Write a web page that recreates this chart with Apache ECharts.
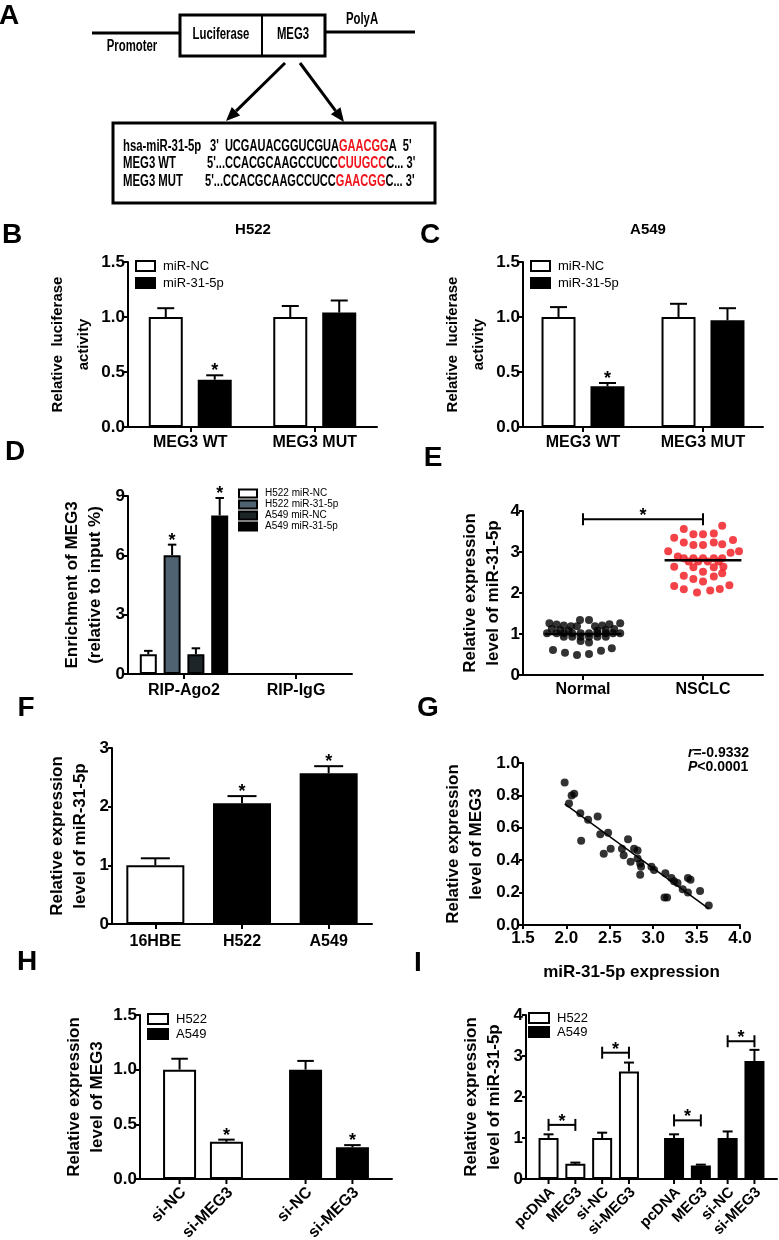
<!DOCTYPE html>
<html>
<head>
<meta charset="utf-8">
<script src="https://cdn.jsdelivr.net/npm/echarts@6/dist/echarts.min.js"></script>
<style>
  html, body { margin: 0; padding: 0; background: #fff; }
  #chart { width: 779px; height: 1240px; }
</style>
</head>
<body>
<div id="chart"></div>
<script>
// ---- panel A: reporter construct ----
const seqLabels = ['hsa-miR-31-5p', 'MEG3 WT', 'MEG3 MUT'];
const seqLeft = ["3'  UCGAUACGGUCGUA", "5'...CCACGCAAGCCUCC", "5'...CCACGCAAGCCUCC"];
const seqSite = ['GAACGG', 'CUUGCC', 'GAACGG'];
const seqRight = ["A  5'", "C... 3'", "C... 3'"];

// ---- panels B / C: luciferase ----
const lucCategories = ['MEG3 WT', 'MEG3 MUT'];
const lucSeriesNames = ['miR-NC', 'miR-31-5p'];
const h522LucMean = [[1.00, 1.00], [0.43, 1.04]];
const h522LucErr = [[1.08, 1.10], [0.47, 1.15]];
const h522LucStar = [[0, 0], [1, 0]];
const a549LucMean = [[1.00, 1.00], [0.37, 0.97]];
const a549LucErr = [[1.09, 1.12], [0.40, 1.08]];
const a549LucStar = [[0, 0], [1, 0]];

// ---- panel D: RIP ----
const ripCategories = ['RIP-Ago2', 'RIP-IgG'];
const ripSeriesNames = ['H522 miR-NC', 'H522 miR-31-5p', 'A549 miR-NC', 'A549 miR-31-5p'];
const ripMean = [[1.0, 0], [6.0, 0], [1.0, 0], [8.02, 0]];
const ripErr = [[1.17, null], [6.54, null], [1.30, null], [8.9, null]];
const ripStar = [[0, 0], [1, 0], [0, 0], [1, 0]];

// ---- panel E: tissue scatter ----
const exprCategories = ['Normal', 'NSCLC'];
const normalJitter = [-0.28, -0.22, -0.16, -0.10, -0.05, -0.025, 0.05, 0.10, 0.16, 0.22, 0.31,
  -0.26, -0.19, -0.12, 0.12, 0.19, 0.26,
  -0.30, -0.22, -0.16, -0.09, -0.02, 0.05, 0.12, 0.19, 0.25, 0.31,
  -0.16, -0.09, -0.02, 0.05, 0.12, 0.19,
  -0.02, 0.05,
  -0.25, -0.15, -0.05, 0.05, 0.15, 0.24];
const normalValues = [1.26, 1.23, 1.21, 1.19, 1.19, 1.34, 1.34, 1.19, 1.21, 1.24, 1.26,
  1.12, 1.10, 1.08, 1.08, 1.10, 1.12,
  1.02, 1.02, 1.02, 1.02, 1.02, 1.02, 1.02, 1.02, 1.02, 1.02,
  0.93, 0.93, 0.93, 0.93, 0.93, 0.93,
  0.83, 0.79,
  0.61, 0.54, 0.49, 0.51, 0.59, 0.65];
const nsclcJitter = [-0.16, 0.16, -0.24, -0.08, 0.00, 0.09, 0.25, -0.16, -0.08, 0.00, 0.09, 0.16,
  -0.29, 0.30, 0.23, -0.21, -0.16, -0.08, 0.00, 0.09, 0.16, -0.12, -0.04, 0.04, 0.13,
  -0.08, 0.09, -0.24, 0.17, 0.00, -0.16, -0.08, 0.09, 0.16, 0.00, -0.24, -0.16, -0.05, 0.06, 0.14, 0.22];
const nsclcValues = [3.56, 3.64, 3.35, 3.43, 3.43, 3.45, 3.29, 3.23, 3.17, 3.17, 3.23, 3.19,
  3.02, 3.02, 2.98, 2.89, 2.85, 2.85, 2.85, 2.85, 2.85, 2.77, 2.77, 2.77, 2.77,
  2.63, 2.63, 2.64, 2.64, 2.52, 2.42, 2.34, 2.40, 2.48, 2.28, 2.17, 2.09, 2.01, 2.06, 2.10, 2.19];
const exprMeans = [1.0, 2.80];
const exprBracket = [[0, 1, 3.80]];

// ---- panel F: cell lines ----
const cellCategories = ['16HBE', 'H522', 'A549'];
const cellMean = [1.00, 2.06, 2.57];
const cellErr = [1.12, 2.18, 2.69];
const cellStar = [0, 1, 1];

// ---- panel G: correlation ----
const corrX = [1.98, 2.06, 2.09, 2.03, 2.16, 2.25, 2.36, 2.17, 2.39, 2.48, 2.43, 2.51, 2.64, 2.66,
  2.71, 2.74, 2.78, 2.82, 2.82, 2.85, 2.86, 2.85, 2.98, 3.01, 3.14, 3.21, 3.24, 3.28, 3.34,
  3.40, 3.43, 3.40, 3.54, 3.13, 3.16, 3.64];
const corrY = [0.88, 0.80, 0.81, 0.75, 0.69, 0.65, 0.67, 0.52, 0.56, 0.57, 0.44, 0.47, 0.47, 0.43,
  0.53, 0.39, 0.47, 0.46, 0.41, 0.38, 0.36, 0.31, 0.36, 0.34, 0.32, 0.29, 0.27, 0.26, 0.22,
  0.29, 0.28, 0.20, 0.21, 0.17, 0.17, 0.12];
const corrR = '-0.9332';
const corrP = '<0.0001';

// ---- panel H: knockdown ----
const cellGroups = ['H522', 'A549'];
const knockTreat = ['si-NC', 'si-MEG3'];
const knockMean = [[1.00, 1.00], [0.34, 0.29]];
const knockErr = [[1.10, 1.08], [0.36, 0.31]];
const knockStar = [[0, 0], [1, 1]];

// ---- panel I: rescue ----
const rescueTreat = ['pcDNA', 'MEG3', 'si-NC', 'si-MEG3'];
const rescueMean = [[1.00, 1.00], [0.37, 0.33], [1.00, 1.00], [2.62, 2.88]];
const rescueErr = [[1.09, 1.09], [0.40, 0.35], [1.13, 1.16], [2.84, 3.15]];
const rescueBrackets = [[0, 0, 1, 1.32], [0, 2, 3, 3.08], [1, 0, 1, 1.43], [1, 2, 3, 3.36]];

const FONT = "'Liberation Sans', Arial, sans-serif";
const RED = '#f0141c';
const white = { color: '#fff', borderColor: '#000', borderWidth: 2 };
const black = { color: '#000', borderColor: '#000', borderWidth: 2 };
const ripColors = ['#fff', '#4f6271', '#1d2529', '#000'];

const chart = echarts.init(document.getElementById('chart'), null, { renderer: 'canvas' });

function slotOffsets(n, w, gap) {
  const total = n * w + (n - 1) * gap * w;
  const out = [];
  for (let i = 0; i < n; i++) out.push(-total / 2 + w / 2 + i * w * (1 + gap));
  return out;
}

const axisLine = { show: true, lineStyle: { color: '#000', width: 2 } };
const tickLabel = { color: '#000', fontFamily: FONT, fontWeight: 'bold', fontSize: 17 };
const nameStyle = { color: '#000', fontFamily: FONT, fontWeight: 'bold', fontSize: 17, lineHeight: 23 };

function yAxisOf(gi, min, max, step, digits, name, gap, style) {
  return {
    type: 'value', gridIndex: gi, min: min, max: max, interval: step,
    axisLine: axisLine,
    axisTick: { show: true, length: 4, lineStyle: { color: '#000', width: 2 } },
    splitLine: { show: false },
    axisLabel: Object.assign({ margin: 3, formatter: v => v.toFixed(digits) }, tickLabel),
    name: name, nameLocation: 'middle', nameRotate: 90, nameGap: gap,
    nameTextStyle: style || nameStyle
  };
}
function catAxisOf(gi, data, margin, showLabel) {
  return {
    type: 'category', gridIndex: gi, data: data,
    axisLine: axisLine,
    axisTick: { show: showLabel, alignWithLabel: true, length: 5, lineStyle: { color: '#000', width: 2 } },
    axisLabel: Object.assign({ show: showLabel, margin: margin, interval: 0 }, tickLabel, { fontSize: 16 })
  };
}

function starText(x, y) {
  return { type: 'text', x: x, y: y, style: { text: '*', align: 'center', verticalAlign: 'bottom',
    fill: '#000', fontFamily: FONT, fontWeight: 'bold', fontSize: 18 } };
}

// error bars (+ stars) for a grouped bar chart
function errorSeries(xi, yi, n, w, gap, means, errs, stars) {
  const offs = slotOffsets(n, w, gap);
  const data = [];
  means.forEach((row, s) => row.forEach((v, c) => {
    if (errs[s][c] != null) data.push([c, s, v, errs[s][c], stars ? stars[s][c] : 0]);
  }));
  return {
    type: 'custom', xAxisIndex: xi, yAxisIndex: yi, z: 5, silent: true, data: data,
    encode: { x: 0, y: 3 },
    renderItem(params, api) {
      const s = api.value(1);
      const p0 = api.coord([api.value(0), api.value(2)]);
      const p1 = api.coord([api.value(0), api.value(3)]);
      const x = p0[0] + offs[s];
      const cw = w * 0.5;
      const children = [
        { type: 'line', shape: { x1: x, y1: p0[1], x2: x, y2: p1[1] }, style: { stroke: '#000', lineWidth: 2 } },
        { type: 'line', shape: { x1: x - cw / 2, y1: p1[1], x2: x + cw / 2, y2: p1[1] }, style: { stroke: '#000', lineWidth: 2 } }
      ];
      if (api.value(4)) children.push(starText(x, p1[1] + 5));
      return { type: 'group', children: children };
    }
  };
}

// tick + rotated label under each bar
function barLabelSeries(xi, yi, n, w, gap, names, groups, size) {
  const offs = slotOffsets(n, w, gap);
  const data = [];
  groups.forEach((g, c) => names.forEach((nm, s) => data.push([c, s])));
  return {
    type: 'custom', xAxisIndex: xi, yAxisIndex: yi, silent: true, data: data,
    encode: { x: 0 },
    renderItem(params, api) {
      const p = api.coord([api.value(0), 0]);
      const x = p[0] + offs[api.value(1)];
      return { type: 'group', children: [
        { type: 'line', shape: { x1: x, y1: p[1], x2: x, y2: p[1] + 5 }, style: { stroke: '#000', lineWidth: 2 } },
        { type: 'text', x: x + 4, y: p[1] + 11, rotation: Math.PI / 4, style: {
          text: names[api.value(1)], align: 'right', verticalAlign: 'middle', fill: '#000',
          fontFamily: FONT, fontWeight: 'bold', fontSize: size } }
      ] };
    }
  };
}

function bracketChildren(xa, xb, y) {
  return [
    { type: 'line', shape: { x1: xa, y1: y, x2: xb, y2: y }, style: { stroke: '#000', lineWidth: 2 } },
    { type: 'line', shape: { x1: xa, y1: y - 6, x2: xa, y2: y + 6 }, style: { stroke: '#000', lineWidth: 2 } },
    { type: 'line', shape: { x1: xb, y1: y - 6, x2: xb, y2: y + 6 }, style: { stroke: '#000', lineWidth: 2 } },
    starText((xa + xb) / 2, y + 6)
  ];
}

const series = [];

// B and C bars
[[0, h522LucMean, h522LucErr, h522LucStar], [1, a549LucMean, a549LucErr, a549LucStar]].forEach(([g, m, e, st]) => {
  lucSeriesNames.forEach((nm, s) => series.push({
    type: 'bar', name: nm, xAxisIndex: g, yAxisIndex: g, data: m[s],
    barWidth: 34, barGap: '44%', itemStyle: s === 0 ? white : black
  }));
  series.push(errorSeries(g, g, 2, 34, 0.44, m, e, st));
});

// D bars
ripSeriesNames.forEach((nm, s) => series.push({
  type: 'bar', name: nm, xAxisIndex: 2, yAxisIndex: 2, data: ripMean[s],
  barWidth: 17, barGap: '40%',
  itemStyle: { color: ripColors[s], borderColor: '#000', borderWidth: 2 }
}));
series.push(errorSeries(2, 2, 4, 17, 0.40, ripMean, ripErr, ripStar));

// E scatter
series.push({
  type: 'scatter', xAxisIndex: 4, yAxisIndex: 3, symbolSize: 8, itemStyle: { color: '#000' },
  data: normalValues.map((v, i) => [0.5 + normalJitter[i], v])
});
series.push({
  type: 'scatter', xAxisIndex: 4, yAxisIndex: 3, symbolSize: 8, itemStyle: { color: RED },
  data: nsclcValues.map((v, i) => [1.5 + nsclcJitter[i], v])
});
series.push({
  type: 'custom', xAxisIndex: 3, yAxisIndex: 3, z: 6, silent: true,
  data: exprMeans.map((v, c) => [c, v]), encode: { x: 0, y: 1 },
  renderItem(params, api) {
    const p = api.coord([api.value(0), api.value(1)]);
    const half = api.size([1, 0])[0] * 0.32;
    return { type: 'line', shape: { x1: p[0] - half, y1: p[1], x2: p[0] + half, y2: p[1] },
      style: { stroke: '#000', lineWidth: 2.5 } };
  }
});
series.push({
  type: 'custom', xAxisIndex: 3, yAxisIndex: 3, silent: true, data: exprBracket, encode: { x: 0, y: 2 },
  renderItem(params, api) {
    const pa = api.coord([api.value(0), api.value(2)]);
    const pb = api.coord([api.value(1), api.value(2)]);
    return { type: 'group', children: bracketChildren(pa[0], pb[0], pa[1]) };
  }
});

// F bars
series.push({
  type: 'bar', xAxisIndex: 5, yAxisIndex: 4, barWidth: 58,
  data: cellMean.map((v, i) => ({ value: v, itemStyle: i === 0 ? white : black }))
});
series.push(errorSeries(5, 4, 1, 58, 0, [cellMean], [cellErr], [cellStar]));

// G scatter + least-squares fit
const n = corrX.length;
const mx = corrX.reduce((a, b) => a + b, 0) / n;
const my = corrY.reduce((a, b) => a + b, 0) / n;
let sxy = 0, sxx = 0;
for (let i = 0; i < n; i++) { sxy += (corrX[i] - mx) * (corrY[i] - my); sxx += (corrX[i] - mx) ** 2; }
const slope = sxy / sxx, icpt = my - slope * mx;
const xLo = Math.min(...corrX), xHi = Math.max(...corrX);
series.push({
  type: 'scatter', xAxisIndex: 6, yAxisIndex: 5, symbolSize: 8, itemStyle: { color: '#000' },
  data: corrX.map((x, i) => [x, corrY[i]])
});
series.push({
  type: 'line', xAxisIndex: 6, yAxisIndex: 5, symbol: 'none', silent: true,
  lineStyle: { color: '#000', width: 1.5 },
  data: [[xLo, icpt + slope * xLo], [xHi, icpt + slope * xHi]]
});

// H bars
knockTreat.forEach((t, s) => series.push({
  type: 'bar', name: t, xAxisIndex: 7, yAxisIndex: 6, barWidth: 33, barGap: '42%',
  data: knockMean[s].map((v, c) => ({ value: v, itemStyle: c === 0 ? white : black }))
}));
series.push(errorSeries(7, 6, 2, 33, 0.42, knockMean, knockErr, knockStar));
series.push(barLabelSeries(7, 6, 2, 33, 0.42, knockTreat, cellGroups, 16));

// I bars
rescueTreat.forEach((t, s) => series.push({
  type: 'bar', name: t, xAxisIndex: 8, yAxisIndex: 7, barWidth: 20, barGap: '34%',
  data: rescueMean[s].map((v, c) => ({ value: v, itemStyle: c === 0 ? white : black }))
}));
series.push(errorSeries(8, 7, 4, 20, 0.34, rescueMean, rescueErr, null));
series.push(barLabelSeries(8, 7, 4, 20, 0.34, rescueTreat, cellGroups, 15));
const rescueOffs = slotOffsets(4, 20, 0.34);
series.push({
  type: 'custom', xAxisIndex: 8, yAxisIndex: 7, silent: true, data: rescueBrackets, encode: { x: 0, y: 3 },
  renderItem(params, api) {
    const p = api.coord([api.value(0), api.value(3)]);
    return { type: 'group', children: bracketChildren(p[0] + rescueOffs[api.value(1)], p[0] + rescueOffs[api.value(2)], p[1]) };
  }
});

// legend-only series for H / I
series.push({ type: 'bar', name: 'H522', xAxisIndex: 9, yAxisIndex: 8, data: [], itemStyle: white });
series.push({ type: 'bar', name: 'A549', xAxisIndex: 9, yAxisIndex: 8, data: [], itemStyle: black });

function legendOf(names, left, top, size, w, h, gap) {
  return {
    data: names, left: left, top: top, orient: 'vertical', icon: 'rect', selectedMode: false,
    itemWidth: w, itemHeight: h, itemGap: gap, padding: 0,
    itemStyle: { borderColor: '#000', borderWidth: 2 },
    textStyle: { color: '#000', fontFamily: FONT, fontSize: size, lineHeight: size + 1, padding: [0, 0, 0, 3] }
  };
}

// panel A drawing (condensed bold text via scaleX)
const SQUEEZE = 0.71;
function arrow(x1, y1, x2, y2) {
  const len = Math.hypot(x2 - x1, y2 - y1);
  const ux = (x2 - x1) / len, uy = (y2 - y1) / len;
  const bx = x2 - ux * 14, by = y2 - uy * 14;
  return [
    { type: 'line', shape: { x1: x1, y1: y1, x2: bx, y2: by }, style: { stroke: '#000', lineWidth: 3 } },
    { type: 'polygon', shape: { points: [[x2, y2], [bx - uy * 6, by + ux * 6], [bx + uy * 6, by - ux * 6]] }, style: { fill: '#000' } }
  ];
}
function txt(x, y, text, size, opts, sx) {
  return { type: 'text', x: x, y: y, scaleX: sx || 1, style: Object.assign({
    text: text, fill: '#000', fontFamily: FONT, fontWeight: 'bold', fontSize: size,
    align: 'center', verticalAlign: 'middle' }, opts || {}) };
}
const graphic = [
  { type: 'line', shape: { x1: 92, y1: 33, x2: 180, y2: 33 }, style: { stroke: '#000', lineWidth: 3 } },
  { type: 'line', shape: { x1: 325, y1: 32, x2: 415, y2: 32 }, style: { stroke: '#000', lineWidth: 3 } },
  { type: 'rect', shape: { x: 180, y: 15, width: 145, height: 41 }, style: { fill: '#fff', stroke: '#000', lineWidth: 3 } },
  { type: 'line', shape: { x1: 262, y1: 15, x2: 262, y2: 56 }, style: { stroke: '#000', lineWidth: 2 } },
  txt(132, 47, 'Promoter', 16, null, SQUEEZE),
  txt(221, 35, 'Luciferase', 16, null, SQUEEZE),
  txt(293, 35, 'MEG3', 16, null, SQUEEZE),
  txt(362, 20, 'PolyA', 16, null, SQUEEZE),
  ...arrow(285, 63, 226, 121),
  ...arrow(300, 63, 344, 122),
  { type: 'rect', shape: { x: 113, y: 123, width: 322, height: 80 }, style: { fill: '#fff', stroke: '#000', lineWidth: 3 } }
];
const seqX = [210, 207, 205];
const seqY = [147, 164, 182];
seqLabels.forEach((lab, i) => {
  graphic.push(txt(123, seqY[i], lab, 16, { align: 'left' }, SQUEEZE));
  graphic.push(txt(seqX[i], seqY[i], seqLeft[i] + '{r|' + seqSite[i] + '}' + seqRight[i], 16, {
    align: 'left', rich: { r: { fill: RED, fontFamily: FONT, fontWeight: 'bold', fontSize: 16 } } }, 0.69));
});
[['A', 9, 16], ['B', 12, 235], ['C', 430, 235], ['D', 15, 452], ['E', 433, 458],
 ['F', 26, 708], ['G', 428, 708], ['H', 27, 962], ['I', 418, 963]].forEach(([l, x, y]) => graphic.push(txt(x, y, l, 28)));
graphic.push(txt(253, 230, 'H522', 15));
graphic.push(txt(648, 230, 'A549', 15));
const italic = { i: { fontStyle: 'italic', fontWeight: 'bold', fontSize: 14, fontFamily: FONT, fill: '#000' } };
graphic.push(txt(688, 753, '{i|r}=' + corrR, 14, { align: 'left', rich: italic }));
graphic.push(txt(688, 767, '{i|P}' + corrP, 14, { align: 'left', rich: italic }));

const lucName = Object.assign({}, nameStyle, { fontSize: 15, lineHeight: 26 });

const option = {
  animation: false,
  backgroundColor: '#fff',
  textStyle: { fontFamily: FONT },
  grid: [
    { left: 128, top: 262, width: 249, height: 165 },
    { left: 523, top: 262, width: 240, height: 165 },
    { left: 128, top: 496, width: 224, height: 178 },
    { left: 523, top: 511, width: 240, height: 164 },
    { left: 112, top: 748, width: 260, height: 176 },
    { left: 523, top: 763, width: 217, height: 162 },
    { left: 140, top: 1015, width: 252, height: 164 },
    { left: 526, top: 1015, width: 251, height: 164 },
    { left: -200, top: -200, width: 10, height: 10 }
  ],
  xAxis: [
    catAxisOf(0, lucCategories, 8, true),
    catAxisOf(1, lucCategories, 8, true),
    catAxisOf(2, ripCategories, 9, true),
    catAxisOf(3, exprCategories, 7, true),
    { type: 'value', gridIndex: 3, min: 0, max: 2, show: false },
    catAxisOf(4, cellCategories, 10, true),
    {
      type: 'value', gridIndex: 5, min: 1.5, max: 4.0, interval: 0.5,
      axisLine: axisLine, splitLine: { show: false },
      axisTick: { show: true, length: 4, lineStyle: { color: '#000', width: 2 } },
      axisLabel: Object.assign({ margin: 5, formatter: v => v.toFixed(1) }, tickLabel),
      name: 'miR-31-5p expression', nameLocation: 'middle', nameGap: 36, nameTextStyle: nameStyle
    },
    catAxisOf(6, cellGroups, 8, false),
    catAxisOf(7, cellGroups, 8, false),
    { type: 'category', gridIndex: 8, data: ['x'], show: false }
  ],
  yAxis: [
    yAxisOf(0, 0, 1.5, 0.5, 1, 'Relative  luciferase\nactivity', 31, lucName),
    yAxisOf(1, 0, 1.5, 0.5, 1, 'Relative  luciferase\nactivity', 31, lucName),
    yAxisOf(2, 0, 9, 3, 0, 'Enrichment of MEG3\n(relative to input %)', 21),
    yAxisOf(3, 0, 4, 1, 0, 'Relative expression\nlevel of miR-31-5p', 18),
    yAxisOf(4, 0, 3, 1, 0, 'Relative expression\nlevel of miR-31-5p', 20),
    yAxisOf(5, 0, 1.0, 0.2, 1, 'Relative expression\nlevel of MEG3', 35),
    yAxisOf(6, 0, 1.5, 0.5, 1, 'Relative expression\nlevel of MEG3', 31),
    yAxisOf(7, 0, 4, 1, 0, 'Relative expression\nlevel of miR-31-5p', 20),
    { type: 'value', gridIndex: 8, show: false }
  ],
  legend: [
    legendOf(lucSeriesNames, 135, 259, 13, 19, 10, 3),
    legendOf(lucSeriesNames, 530, 259, 13, 19, 10, 3),
    legendOf(ripSeriesNames, 238, 488, 10, 18, 8, 0),
    legendOf(['H522', 'A549'], 147, 1012, 13, 20, 10, 1),
    legendOf(['H522', 'A549'], 528, 1011, 13, 20, 10, 0)
  ],
  graphic: graphic,
  series: series
};

chart.setOption(option);
</script>
</body>
</html>
